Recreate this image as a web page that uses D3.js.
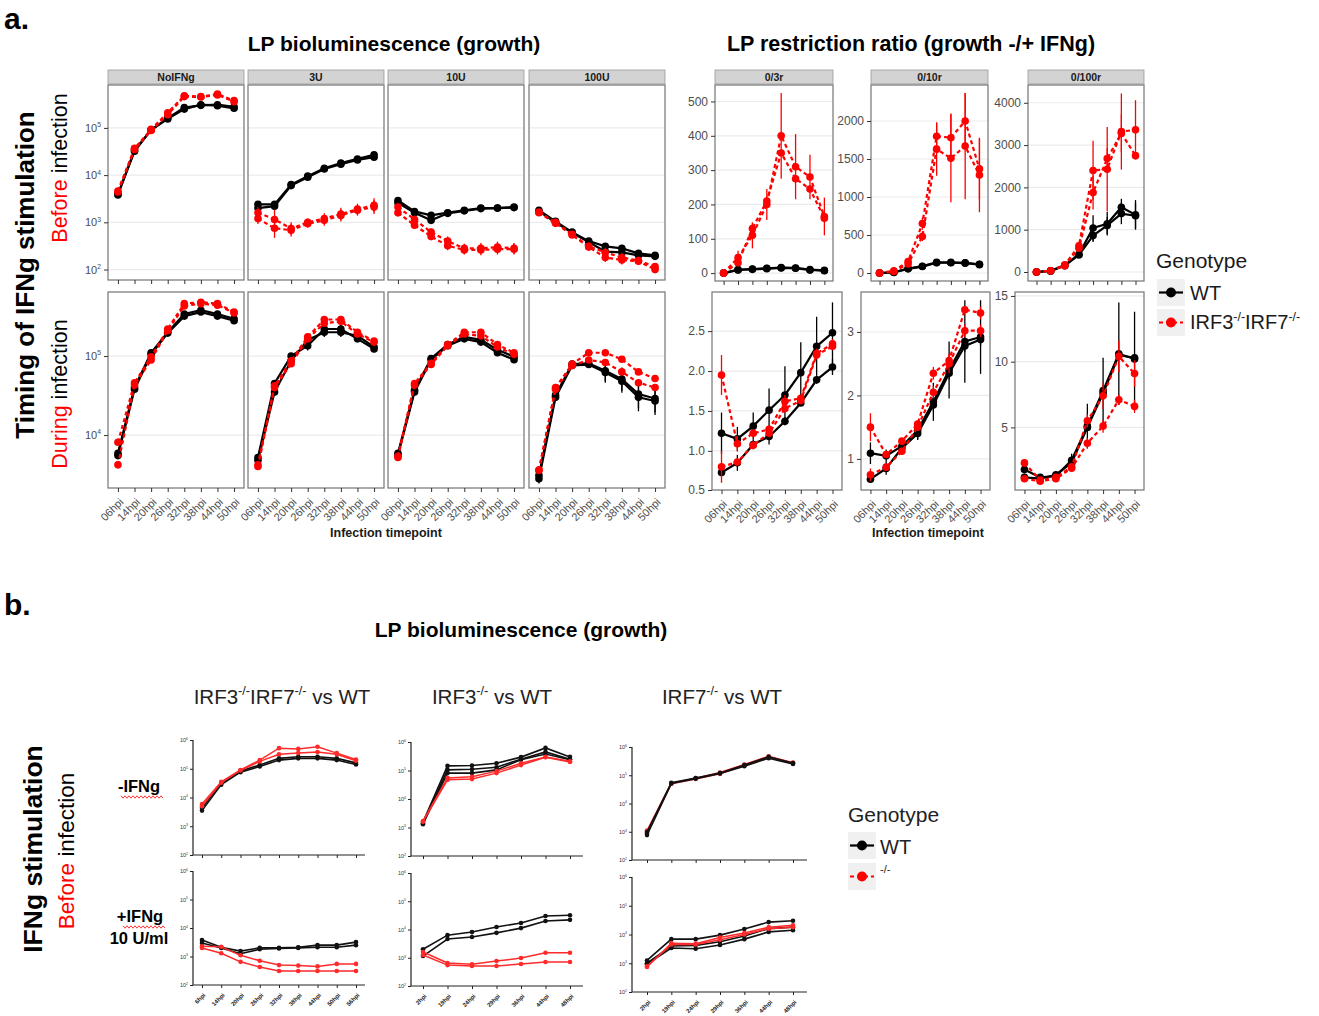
<!DOCTYPE html>
<html>
<head>
<meta charset="utf-8">
<title>LP bioluminescence</title>
<script src="https://cdn.jsdelivr.net/npm/d3@7/dist/d3.min.js"></script>
<style>
  body { margin: 0; background: #fff; }
  svg text { font-family: "Liberation Sans", Arial, Helvetica, sans-serif; }
</style>
</head>
<body>
<script>
// ---------- a. data ----------
var hpiA = ["06hpi", "14hpi", "20hpi", "26hpi", "32hpi", "38hpi", "44hpi", "50hpi"];
var growthFacets = ["NoIFNg", "3U", "10U", "100U"];
var ratioFacets = ["0/3r", "0/10r", "0/100r"];

// IFNg before infection, RLU, two replicates per genotype
var bef_NoIFNg_WT = [[4.0e3, 3.2e4, 9.1e4, 1.55e5, 2.5e5, 3.1e5, 2.95e5, 2.6e5], [3.8e3, 3.4e4, 9.0e4, 1.6e5, 2.7e5, 3.0e5, 3.1e5, 2.8e5]];
var bef_NoIFNg_KO = [[4.6e3, 3.7e4, 9.3e4, 2.1e5, 4.8e5, 4.6e5, 5.2e5, 3.8e5], [4.4e3, 3.5e4, 8.8e4, 1.9e5, 4.6e5, 4.5e5, 5.0e5, 3.6e5]];
var bef_3U_WT = [[2.4e3, 2.4e3, 6.3e3, 9.5e3, 1.4e4, 1.8e4, 2.2e4, 2.7e4], [2.0e3, 2.2e3, 6.0e3, 9.0e3, 1.35e4, 1.7e4, 2.1e4, 2.4e4]];
var bef_3U_KO = [[1.6e3, 1.15e3, 7.4e2, 1.0e3, 1.2e3, 1.5e3, 1.9e3, 2.3e3], [1.2e3, 7.5e2, 6.8e2, 9.3e2, 1.1e3, 1.4e3, 1.8e3, 2.1e3]];
var bef_10U_WT = [[2.9e3, 1.7e3, 1.4e3, 1.6e3, 1.8e3, 2.0e3, 2.0e3, 2.1e3], [2.6e3, 1.6e3, 1.1e3, 1.55e3, 1.75e3, 1.95e3, 2.0e3, 2.05e3]];
var bef_10U_KO = [[2.1e3, 1.15e3, 6.2e2, 4.0e2, 2.8e2, 2.8e2, 3.0e2, 2.8e2], [1.6e3, 8.7e2, 5.0e2, 3.2e2, 2.6e2, 2.6e2, 2.7e2, 2.7e2]];
var bef_100U_WT = [[1.8e3, 1.05e3, 6.2e2, 4.0e2, 3.1e2, 2.8e2, 2.2e2, 2.0e2], [1.7e3, 1.0e3, 6.0e2, 3.8e2, 2.4e2, 2.3e2, 2.0e2, 1.9e2]];
var bef_100U_KO = [[1.65e3, 1.0e3, 5.6e2, 3.1e2, 2.3e2, 1.8e2, 1.55e2, 1.15e2], [1.6e3, 9.5e2, 5.4e2, 3.0e2, 1.8e2, 1.6e2, 1.5e2, 1.0e2]];
// error bars as fold range, one row per facet
var bef_errWT = [[1.05, 1.05, 1.05, 1.05, 1.05, 1.05, 1.05, 1.05], [1.15, 1.1, 1.05, 1.05, 1.05, 1.05, 1.05, 1.05], [1.15, 1.12, 1.1, 1.05, 1.05, 1.05, 1.05, 1.05], [1.05, 1.05, 1.05, 1.05, 1.05, 1.05, 1.05, 1.08]];
var bef_errKO = [[1.05, 1.05, 1.05, 1.05, 1.05, 1.05, 1.05, 1.05], [1.3, 1.6, 1.35, 1.2, 1.3, 1.35, 1.3, 1.4], [1.2, 1.2, 1.2, 1.25, 1.25, 1.3, 1.3, 1.3], [1.1, 1.1, 1.15, 1.2, 1.25, 1.25, 1.2, 1.2]];

// IFNg during infection
var dur_NoIFNg_WT = [[5.9e3, 4.0e4, 1.1e5, 2.0e5, 3.4e5, 3.8e5, 3.4e5, 2.95e5], [5.5e3, 3.8e4, 1.05e5, 1.95e5, 3.2e5, 3.6e5, 3.2e5, 2.8e5]];
var dur_NoIFNg_KO = [[8.1e3, 4.6e4, 9.8e4, 2.2e5, 4.6e5, 4.8e5, 4.6e5, 3.6e5], [4.2e3, 4.3e4, 8.9e4, 2.1e5, 4.3e5, 4.6e5, 4.4e5, 3.5e5]];
var dur_3U_WT = [[5.2e3, 4.5e4, 1.0e5, 1.35e5, 2.2e5, 2.2e5, 1.65e5, 1.23e5], [4.8e3, 3.5e4, 8.7e4, 1.6e5, 2.0e5, 2.0e5, 1.8e5, 1.3e5]];
var dur_3U_KO = [[4.2e3, 4.2e4, 8.7e4, 1.75e5, 2.9e5, 2.9e5, 2.0e5, 1.55e5], [4.0e3, 4.0e4, 8.0e4, 1.65e5, 2.6e5, 2.75e5, 1.9e5, 1.5e5]];
var dur_10U_WT = [[5.9e3, 3.7e4, 9.3e4, 1.4e5, 1.75e5, 1.6e5, 1.2e5, 9.8e4], [5.6e3, 3.5e4, 9.0e4, 1.35e5, 1.65e5, 1.5e5, 1.1e5, 9.0e4]];
var dur_10U_KO = [[5.4e3, 4.5e4, 8.1e4, 1.4e5, 2.0e5, 2.0e5, 1.4e5, 1.1e5], [5.2e3, 4.3e4, 7.8e4, 1.35e5, 1.9e5, 1.8e5, 1.3e5, 1.05e5]];
var dur_100U_WT = [[3.1e3, 3.2e4, 7.9e4, 8.1e4, 6.5e4, 5.1e4, 3.3e4, 2.9e4], [2.8e3, 3.0e4, 7.6e4, 7.8e4, 6.2e4, 4.8e4, 3.0e4, 2.7e4]];
var dur_100U_KO = [[3.6e3, 4.0e4, 7.9e4, 1.1e5, 1.1e5, 9.1e4, 6.3e4, 5.2e4], [3.6e3, 3.8e4, 7.6e4, 8.9e4, 8.3e4, 6.3e4, 4.6e4, 4.0e4]];
var dur_errWT = [[1.1, 1.05, 1.05, 1.05, 1.05, 1.05, 1.05, 1.05], [1.1, 1.1, 1.05, 1.15, 1.15, 1.15, 1.1, 1.1], [1.05, 1.05, 1.05, 1.05, 1.05, 1.05, 1.1, 1.1], [1.15, 1.05, 1.05, 1.1, 1.35, 1.4, 1.5, 1.5]];
var dur_errKO = [[1.05, 1.05, 1.05, 1.05, 1.05, 1.05, 1.05, 1.05], [1.05, 1.05, 1.05, 1.05, 1.05, 1.05, 1.05, 1.05], [1.05, 1.05, 1.05, 1.05, 1.05, 1.05, 1.05, 1.05], [1.05, 1.05, 1.05, 1.05, 1.05, 1.05, 1.05, 1.05]];

// restriction ratio, before infection
var ratB_3_WT = [[0, 10, 12, 14, 16, 15, 10, 8], [0, 9, 11, 13, 15, 14, 9, 7]];
var ratB_3_KO = [[0, 45, 110, 200, 400, 310, 280, 165], [0, 30, 130, 210, 350, 275, 245, 160]];
var ratB_3_KOerr = [[2, 20, 38, 45, 125, 95, 65, 55], [2, 10, 15, 15, 0, 0, 0, 0]];
var ratB_10_WT = [[0, 10, 60, 90, 140, 140, 135, 115], [0, 8, 55, 85, 135, 135, 130, 110]];
var ratB_10_KO = [[0, 30, 150, 650, 1800, 1780, 2000, 1370], [0, 20, 120, 480, 1630, 1510, 1670, 1290]];
var ratB_10_KOerr = [[5, 10, 40, 80, 180, 320, 370, 400], [3, 10, 30, 60, 350, 580, 700, 490]];
var ratB_100_WT = [[0, 30, 160, 420, 1040, 1140, 1530, 1350], [0, 20, 150, 400, 860, 1100, 1380, 1330]];
var ratB_100_WTerr = [[0, 10, 20, 50, 300, 280, 200, 350], [0, 10, 20, 40, 150, 200, 250, 300]];
var ratB_100_KO = [[0, 30, 170, 620, 2400, 2430, 3320, 3360], [0, 30, 150, 560, 1880, 2680, 3280, 2750]];
var ratB_100_KOerr = [[0, 10, 30, 80, 700, 1000, 900, 700], [0, 10, 20, 60, 400, 250, 450, 0]];

// restriction ratio, during infection
var ratD_3_WT = [[1.22, 1.15, 1.31, 1.51, 1.70, 1.98, 2.31, 2.48], [0.73, 0.85, 1.08, 1.18, 1.37, 1.60, 1.89, 2.05]];
var ratD_3_WTerr = [[0.26, 0.15, 0.17, 0.27, 0.36, 0.38, 0.37, 0.38], [0.05, 0.1, 0.06, 0.1, 0.05, 0.03, 0.05, 0.1]];
var ratD_3_KO = [[1.95, 1.09, 1.22, 1.27, 1.62, 1.66, 2.22, 2.34], [0.80, 0.86, 1.07, 1.22, 1.53, 1.63, 2.20, 2.31]];
var ratD_3_KOerr = [[0.25, 0.1, 0.05, 0.05, 0.08, 0.04, 0.06, 0.06], [0.2, 0.05, 0.05, 0.05, 0.05, 0.04, 0.05, 0.05]];
var ratD_10_WT = [[1.09, 1.05, 1.2, 1.45, 1.9, 2.4, 2.85, 2.92], [0.68, 0.85, 1.17, 1.4, 1.85, 2.35, 2.78, 2.88]];
var ratD_10_WTerr = [[0.17, 0.1, 0.08, 0.15, 0.3, 0.45, 0.65, 0.58], [0.03, 0.1, 0.06, 0.1, 0.1, 0.1, 0.1, 0.1]];
var ratD_10_KO = [[1.5, 1.07, 1.28, 1.55, 2.35, 2.55, 3.35, 3.3], [0.75, 0.87, 1.12, 1.5, 2.05, 2.5, 3.02, 3.02]];
var ratD_10_KOerr = [[0.22, 0.05, 0.05, 0.05, 0.1, 0.1, 0.05, 0.1], [0.1, 0.05, 0.04, 0.05, 0.1, 0.15, 0.1, 0.1]];
var ratD_100_WT = [[1.8, 1.2, 1.3, 2.5, 5.1, 7.8, 10.6, 10.2], [1.2, 1.1, 1.4, 2.3, 5.0, 7.6, 10.5, 10.3]];
var ratD_100_WTerr = [[0.3, 0.2, 0.2, 0.5, 1.7, 2.5, 3.9, 3.6], [0.2, 0.2, 0.2, 0.3, 0.3, 0.3, 0.3, 0.3]];
var ratD_100_KO = [[2.3, 1.0, 1.2, 2.0, 5.5, 7.4, 10.4, 9.1], [1.1, 0.9, 1.1, 1.9, 3.8, 5.1, 7.1, 6.6]];
var ratD_100_KOerr = [[0.3, 0.2, 0.2, 0.3, 0.5, 1.0, 1.2, 1.0], [0.2, 0.1, 0.1, 0.2, 0.4, 0.5, 0.4, 0.5]];

// ---------- b. data ----------
var hpiB1 = ["6hpi", "14hpi", "20hpi", "26hpi", "32hpi", "38hpi", "44hpi", "50hpi", "56hpi"];
var hpiB2 = ["2hpi", "19hpi", "24hpi", "29hpi", "36hpi", "44hpi", "48hpi"];
var bTicks = [1e2, 1e3, 1e4, 1e5, 1e6];

var bL_top_WT = [[4.3e3, 3.2e4, 8.3e4, 1.35e5, 2.3e5, 2.6e5, 2.6e5, 2.3e5, 1.6e5], [3.5e3, 2.8e4, 7.6e4, 1.2e5, 2.0e5, 2.3e5, 2.3e5, 2.0e5, 1.4e5]];
var bL_top_KO = [[5.9e3, 3.5e4, 9.1e4, 2.0e5, 5.2e5, 4.9e5, 5.8e5, 3.5e5, 2.1e5], [5.0e3, 3.3e4, 8.7e4, 1.8e5, 3.2e5, 3.5e5, 3.8e5, 3.2e5, 1.9e5]];
var bL_bot_WT = [[3.8e3, 2.1e3, 1.55e3, 2.0e3, 2.0e3, 2.1e3, 2.5e3, 2.5e3, 3.2e3], [3.0e3, 2.0e3, 1.25e3, 1.8e3, 1.9e3, 2.0e3, 2.1e3, 2.1e3, 2.5e3]];
var bL_bot_KO = [[2.3e3, 2.2e3, 1.1e3, 7.1e2, 5.0e2, 4.8e2, 4.5e2, 5.5e2, 5.5e2], [2.0e3, 1.3e3, 6.5e2, 4.3e2, 3.1e2, 3.1e2, 3.1e2, 3.1e2, 3.1e2]];
var bM_top_WT = [[1.55e3, 1.45e5, 1.5e5, 1.8e5, 2.95e5, 6.2e5, 3.0e5], [1.4e3, 1.05e5, 1.1e5, 1.3e5, 2.5e5, 4.5e5, 2.5e5], [1.3e3, 8.1e4, 8.1e4, 1.05e5, 2.4e5, 3.8e5, 2.4e5]];
var bM_top_KO = [[1.7e3, 5.5e4, 6.0e4, 9.5e4, 1.8e5, 3.0e5, 2.1e5], [1.6e3, 4.7e4, 5.0e4, 8.1e4, 1.55e5, 2.9e5, 2.0e5]];
var bM_bot_WT = [[2.0e3, 6.3e3, 8.1e3, 1.23e4, 1.7e4, 3.0e4, 3.2e4], [1.15e3, 4.6e3, 5.4e3, 7.6e3, 1.12e4, 2.0e4, 2.2e4]];
var bM_bot_KO = [[1.6e3, 6.5e2, 5.9e2, 7.6e2, 9.8e2, 1.5e3, 1.5e3], [1.25e3, 5.5e2, 5.1e2, 5.1e2, 6.0e2, 7.1e2, 7.1e2]];
var bR_top_WT = [[9.8e2, 5.4e4, 7.9e4, 1.2e5, 2.3e5, 4.5e5, 2.7e5], [7.6e2, 5.1e4, 7.6e4, 1.15e5, 2.1e5, 4.0e5, 2.5e5]];
var bR_top_KO = [[1.1e3, 5.2e4, 7.9e4, 1.25e5, 2.4e5, 4.7e5, 2.8e5], [8.9e2, 5.0e4, 7.4e4, 1.12e5, 2.2e5, 4.2e5, 2.6e5]];
var bR_bot_WT = [[1.25e3, 6.9e3, 6.9e3, 9.5e3, 1.55e4, 2.7e4, 3.0e4], [9.3e2, 3.4e3, 3.2e3, 4.3e3, 6.9e3, 1.23e4, 1.4e4], [1.0e3, 4.0e3, 4.2e3, 5.6e3, 8.9e3, 1.6e4, 1.8e4]];
var bR_bot_KO = [[7.4e2, 5.0e3, 4.8e3, 7.9e3, 1.12e4, 1.8e4, 2.1e4], [7.9e2, 4.5e3, 4.5e3, 6.6e3, 1.0e4, 1.6e4, 1.8e4]];

// ---------- drawing ----------
var RED = "#ff0000";
var GRID = "#ebebeb";
var BORDER = "#7f7f7f";
var AXTXT = "#4d4d4d";

var svg = d3.select("body").append("svg")
    .attr("width", 1319).attr("height", 1016);
svg.append("rect").attr("width", 1319).attr("height", 1016).attr("fill", "#fff");

// text made of [string, isSuperscript] parts
function supText(t, parts, fs) {
    var up = false;
    parts.forEach(function (p) {
        var s = t.append("tspan").text(p[0]);
        if (p[1]) {
            s.attr("font-size", fs * 0.62);
            if (!up) { s.attr("dy", -fs * 0.42); up = true; }
        } else if (up) {
            s.attr("dy", fs * 0.42);
            up = false;
        }
    });
    return t;
}

function powLabels(sel, fs) {
    sel.each(function (d) {
        var t = d3.select(this).text(null);
        supText(t, [["10"], [String(Math.round(Math.log10(d))), true]], fs);
    });
}

function drawSeries(g, x, y, cats, reps, errFn, color, dash, r, lw) {
    var line = d3.line()
        .x(function (d, i) { return x(cats[i]); })
        .y(function (d) { return y(d); });
    reps.forEach(function (rep, k) {
        var s = g.append("g");
        if (errFn) {
            s.selectAll("line").data(rep).enter().append("line")
                .attr("x1", function (d, i) { return x(cats[i]); })
                .attr("x2", function (d, i) { return x(cats[i]); })
                .attr("y1", function (d, i) { return y(errFn(k, i, d)[0]); })
                .attr("y2", function (d, i) { return y(errFn(k, i, d)[1]); })
                .attr("stroke", color).attr("stroke-width", 1.3);
        }
        s.append("path").datum(rep).attr("d", line)
            .attr("fill", "none").attr("stroke", color).attr("stroke-width", lw)
            .attr("stroke-dasharray", dash);
        s.selectAll("circle").data(rep).enter().append("circle")
            .attr("cx", function (d, i) { return x(cats[i]); })
            .attr("cy", function (d) { return y(d); })
            .attr("r", r).attr("fill", color);
    });
}

function strip(x0, w, label) {
    svg.append("rect").attr("x", x0).attr("y", 70).attr("width", w).attr("height", 14)
        .attr("fill", "#d3d3d3").attr("stroke", "#9a9a9a").attr("stroke-width", 0.8);
    svg.append("text").attr("x", x0 + w / 2).attr("y", 81).attr("text-anchor", "middle")
        .attr("font-size", 10.5).attr("font-weight", "bold").attr("fill", "#1a1a1a").text(label);
}

// one ggplot-like facet: grid, series, border, axes
function facet(p) {
    var x = d3.scalePoint().domain(hpiA).range([p.x, p.x + p.w]).padding(0.6);
    var y = (p.log ? d3.scaleLog() : d3.scaleLinear()).domain(p.dom).range([p.y + p.h, p.y]).clamp(true);
    var g = svg.append("g");
    g.selectAll("line.grid").data(p.ticks).enter().append("line").attr("class", "grid")
        .attr("x1", p.x).attr("x2", p.x + p.w)
        .attr("y1", function (d) { return y(d); }).attr("y2", function (d) { return y(d); })
        .attr("stroke", GRID).attr("stroke-width", 1.2);
    drawSeries(g, x, y, hpiA, p.wt, p.errWT, "#000", null, 3.8, 2.2);
    drawSeries(g, x, y, hpiA, p.ko, p.errKO, RED, "4,3", 3.8, 2.2);
    g.append("rect").attr("x", p.x).attr("y", p.y).attr("width", p.w).attr("height", p.h)
        .attr("fill", "none").attr("stroke", BORDER).attr("stroke-width", 1.3);

    var ax = g.append("g").attr("transform", "translate(0," + (p.y + p.h) + ")")
        .call(d3.axisBottom(x).tickSize(4).tickFormat(p.xlab ? null : ""));
    ax.select(".domain").remove();
    ax.selectAll(".tick line").attr("stroke", "#333");
    ax.selectAll(".tick text")
        .attr("x", 0).attr("y", 0).attr("dy", "0.35em")
        .attr("transform", "translate(3,12) rotate(-45)")
        .attr("text-anchor", "end").attr("font-size", 11).attr("fill", AXTXT);

    if (p.ylab) {
        var ay = g.append("g").attr("transform", "translate(" + p.x + ",0)")
            .call(d3.axisLeft(y).tickValues(p.ticks).tickSize(4).tickPadding(3)
                .tickFormat(p.fmt || ""));
        ay.select(".domain").remove();
        ay.selectAll(".tick line").attr("stroke", "#333");
        ay.selectAll(".tick text").attr("font-size", p.log ? 11 : 12).attr("fill", AXTXT);
        if (p.log) powLabels(ay.selectAll(".tick text"), 11);
    }
}

function foldErr(e) {
    return function (k, i, v) { return [v / e[i], v * e[i]]; };
}
function addErr(e) {
    return function (k, i, v) { return [v - e[k][i], v + e[k][i]]; };
}

// a. growth facets
var growthX = [108, 248, 388, 529];
var befWT = [bef_NoIFNg_WT, bef_3U_WT, bef_10U_WT, bef_100U_WT];
var befKO = [bef_NoIFNg_KO, bef_3U_KO, bef_10U_KO, bef_100U_KO];
var durWT = [dur_NoIFNg_WT, dur_3U_WT, dur_10U_WT, dur_100U_WT];
var durKO = [dur_NoIFNg_KO, dur_3U_KO, dur_10U_KO, dur_100U_KO];

growthFacets.forEach(function (name, c) {
    strip(growthX[c], 136, name);
    facet({ x: growthX[c], w: 136, y: 85, h: 195, log: true, dom: [60, 8.1e5],
        ticks: [1e2, 1e3, 1e4, 1e5], wt: befWT[c], ko: befKO[c],
        errWT: foldErr(bef_errWT[c]), errKO: foldErr(bef_errKO[c]), ylab: c === 0 });
    facet({ x: growthX[c], w: 136, y: 292, h: 196, log: true, dom: [2140, 6.46e5],
        ticks: [1e4, 1e5], wt: durWT[c], ko: durKO[c],
        errWT: foldErr(dur_errWT[c]), errKO: foldErr(dur_errKO[c]), ylab: c === 0, xlab: true });
});

// a. ratio facets (free y scales)
var zero = [[0, 0, 0, 0, 0, 0, 0, 0], [0, 0, 0, 0, 0, 0, 0, 0]];
var ratioTop = [
    { x: 715, w: 118, dom: [-23, 548], ticks: [0, 100, 200, 300, 400, 500], wt: ratB_3_WT, ko: ratB_3_KO, ew: zero, ek: ratB_3_KOerr },
    { x: 871, w: 117, dom: [-105, 2474], ticks: [0, 500, 1000, 1500, 2000], wt: ratB_10_WT, ko: ratB_10_KO, ew: zero, ek: ratB_10_KOerr },
    { x: 1028, w: 116, dom: [-213, 4420], ticks: [0, 1000, 2000, 3000, 4000], wt: ratB_100_WT, ko: ratB_100_KO, ew: ratB_100_WTerr, ek: ratB_100_KOerr }
];
var ratioBot = [
    { x: 712, w: 130, dom: [0.51, 2.99], ticks: [0.5, 1, 1.5, 2, 2.5], fmt: d3.format(".1f"), wt: ratD_3_WT, ko: ratD_3_KO, ew: ratD_3_WTerr, ek: ratD_3_KOerr },
    { x: 861, w: 129, dom: [0.51, 3.63], ticks: [1, 2, 3], fmt: d3.format("d"), wt: ratD_10_WT, ko: ratD_10_KO, ew: ratD_10_WTerr, ek: ratD_10_KOerr },
    { x: 1015, w: 129, dom: [0.24, 15.3], ticks: [5, 10, 15], fmt: d3.format("d"), wt: ratD_100_WT, ko: ratD_100_KO, ew: ratD_100_WTerr, ek: ratD_100_KOerr }
];
ratioFacets.forEach(function (name, c) {
    var t = ratioTop[c], b = ratioBot[c];
    strip(t.x, t.w, name);
    facet({ x: t.x, w: t.w, y: 85, h: 196, dom: t.dom, ticks: t.ticks, fmt: d3.format("d"),
        wt: t.wt, ko: t.ko, errWT: addErr(t.ew), errKO: addErr(t.ek), ylab: true });
    facet({ x: b.x, w: b.w, y: 292, h: 198, dom: b.dom, ticks: b.ticks, fmt: b.fmt,
        wt: b.wt, ko: b.ko, errWT: addErr(b.ew), errKO: addErr(b.ek), ylab: true, xlab: true });
});

// a. titles and labels
svg.append("text").attr("x", 4).attr("y", 29).attr("font-size", 30).attr("font-weight", "bold").text("a.");
svg.append("text").attr("x", 394).attr("y", 51).attr("text-anchor", "middle").attr("font-size", 21)
    .attr("font-weight", "bold").text("LP bioluminescence (growth)");
svg.append("text").attr("x", 911).attr("y", 51).attr("text-anchor", "middle").attr("font-size", 21.5)
    .attr("font-weight", "bold").text("LP restriction ratio (growth -/+ IFNg)");
[386, 928].forEach(function (cx) {
    svg.append("text").attr("x", cx).attr("y", 537).attr("text-anchor", "middle")
        .attr("font-size", 12.5).attr("font-weight", "bold").attr("fill", "#1a1a1a").text("Infection timepoint");
});
svg.append("text").attr("transform", "translate(34,275) rotate(-90)").attr("text-anchor", "middle")
    .attr("font-size", 26).attr("font-weight", "bold").text("Timing of IFNg stimulation");

function twoTone(cx, cy, first, rest, fs) {
    var t = svg.append("text").attr("transform", "translate(" + cx + "," + cy + ") rotate(-90)")
        .attr("text-anchor", "middle").attr("font-size", fs);
    t.append("tspan").attr("fill", RED).text(first);
    t.append("tspan").attr("fill", "#000").text(rest);
}
twoTone(67, 168, "Before", " infection", 21.5);
twoTone(67, 394, "During", " infection", 21.5);

// legend helper
function legendKey(x, y, color, dash) {
    svg.append("rect").attr("x", x).attr("y", y).attr("width", 28).attr("height", 27).attr("fill", "#f0f0f0");
    svg.append("line").attr("x1", x + 2).attr("x2", x + 26).attr("y1", y + 13.5).attr("y2", y + 13.5)
        .attr("stroke", color).attr("stroke-width", 2.2).attr("stroke-dasharray", dash);
    svg.append("circle").attr("cx", x + 14).attr("cy", y + 13.5).attr("r", 5).attr("fill", color);
}
svg.append("text").attr("x", 1156).attr("y", 268).attr("font-size", 21).attr("fill", "#1a1a1a").text("Genotype");
legendKey(1157, 279, "#000", null);
legendKey(1157, 309, RED, "4,3");
svg.append("text").attr("x", 1190).attr("y", 300).attr("font-size", 20).attr("fill", "#1a1a1a").text("WT");
supText(svg.append("text").attr("x", 1190).attr("y", 329).attr("font-size", 20).attr("fill", "#1a1a1a"),
    [["IRF3"], ["-/-", true], ["IRF7"], ["-/-", true]], 20);

// ---------- b. ----------
svg.append("text").attr("x", 4).attr("y", 615).attr("font-size", 30).attr("font-weight", "bold").text("b.");
svg.append("text").attr("x", 521).attr("y", 637).attr("text-anchor", "middle").attr("font-size", 21)
    .attr("font-weight", "bold").text("LP bioluminescence (growth)");

var bCols = [
    { ax: 193, x1: 365, first: 202, last: 356, cats: hpiB1, top: [740, 855], bot: [871, 985], cx: 282,
      title: [["IRF3"], ["-/-", true], ["IRF7"], ["-/-", true], [" vs WT"]],
      wt: [bL_top_WT, bL_bot_WT], ko: [bL_top_KO, bL_bot_KO] },
    { ax: 411, x1: 583, first: 423, last: 570, cats: hpiB2, top: [742, 856], bot: [873, 986], cx: 492,
      title: [["IRF3"], ["-/-", true], [" vs WT"]],
      wt: [bM_top_WT, bM_bot_WT], ko: [bM_top_KO, bM_bot_KO] },
    { ax: 632, x1: 807, first: 647, last: 793, cats: hpiB2, top: [747, 860], bot: [877, 992], cx: 722,
      title: [["IRF7"], ["-/-", true], [" vs WT"]],
      wt: [bR_top_WT, bR_bot_WT], ko: [bR_top_KO, bR_bot_KO] }
];

function bPanel(c, yr, wt, ko, xlab, koFirst) {
    var x = d3.scalePoint().domain(c.cats).range([c.first, c.last]);
    var y = d3.scaleLog().domain([bTicks[0], bTicks[bTicks.length - 1]]).range([yr[1], yr[0]]).clamp(true);
    var g = svg.append("g");
    if (koFirst) {
        drawSeries(g, x, y, c.cats, ko, null, "#ff2a2a", null, 2.3, 1.5);
        drawSeries(g, x, y, c.cats, wt, null, "#111", null, 2.3, 1.6);
    } else {
        drawSeries(g, x, y, c.cats, wt, null, "#111", null, 2.3, 1.6);
        drawSeries(g, x, y, c.cats, ko, null, "#ff2a2a", null, 2.3, 1.5);
    }
    g.append("line").attr("x1", c.ax).attr("x2", c.ax).attr("y1", yr[0]).attr("y2", yr[1])
        .attr("stroke", "#222").attr("stroke-width", 1.2);
    g.append("line").attr("x1", c.ax).attr("x2", c.x1).attr("y1", yr[1]).attr("y2", yr[1])
        .attr("stroke", "#222").attr("stroke-width", 1.2);
    var ay = g.append("g").attr("transform", "translate(" + c.ax + ",0)")
        .call(d3.axisLeft(y).tickValues(bTicks).tickSize(3).tickPadding(2).tickFormat(""));
    ay.select(".domain").remove();
    ay.selectAll(".tick line").attr("stroke", "#222");
    ay.selectAll(".tick text").attr("font-size", 5.5).attr("fill", "#333");
    powLabels(ay.selectAll(".tick text"), 5.5);
    var axb = g.append("g").attr("transform", "translate(0," + yr[1] + ")")
        .call(d3.axisBottom(x).tickSize(3).tickFormat(xlab ? null : ""));
    axb.select(".domain").remove();
    axb.selectAll(".tick line").attr("stroke", "#222");
    axb.selectAll(".tick text").attr("x", 0).attr("y", 0).attr("dy", "0.35em")
        .attr("transform", "translate(2,9) rotate(-45)").attr("text-anchor", "end")
        .attr("font-size", 6).attr("font-weight", "bold").attr("fill", "#222");
}

bCols.forEach(function (c, i) {
    supText(svg.append("text").attr("x", c.cx).attr("y", 704).attr("text-anchor", "middle")
        .attr("font-size", 20.5).attr("fill", "#222"), c.title, 20.5);
    bPanel(c, c.top, c.wt[0], c.ko[0], false, i === 2);
    bPanel(c, c.bot, c.wt[1], c.ko[1], true, false);
});

svg.append("text").attr("transform", "translate(42,849) rotate(-90)").attr("text-anchor", "middle")
    .attr("font-size", 26.5).attr("font-weight", "bold").text("IFNg stimulation");
twoTone(74, 851, "Before", " infection", 22.5);

// row labels with the spell-check squiggle under IFNg
function squiggle(x0, x1, yy) {
    var pts = d3.range(x0, x1, 2).map(function (v, i) { return [v, yy + (i % 2 ? 1.2 : -1.2)]; });
    svg.append("path").attr("d", d3.line()(pts)).attr("fill", "none")
        .attr("stroke", RED).attr("stroke-width", 0.8);
}
svg.append("text").attr("x", 139).attr("y", 792).attr("text-anchor", "middle")
    .attr("font-size", 16.5).attr("font-weight", "bold").text("-IFNg");
squiggle(121, 164, 797);
svg.append("text").attr("x", 140).attr("y", 922).attr("text-anchor", "middle")
    .attr("font-size", 16.5).attr("font-weight", "bold").text("+IFNg");
squiggle(123, 166, 927);
svg.append("text").attr("x", 139).attr("y", 944).attr("text-anchor", "middle")
    .attr("font-size", 16.5).attr("font-weight", "bold").text("10 U/ml");

// b. legend
svg.append("text").attr("x", 848).attr("y", 822).attr("font-size", 21).attr("fill", "#222").text("Genotype");
legendKey(848, 832, "#000", null);
legendKey(848, 863, RED, "4,3");
svg.append("text").attr("x", 880).attr("y", 854).attr("font-size", 20).attr("fill", "#222").text("WT");
svg.append("text").attr("x", 880).attr("y", 873).attr("font-size", 11).attr("fill", "#222").text("-/-");
</script>
</body>
</html>
